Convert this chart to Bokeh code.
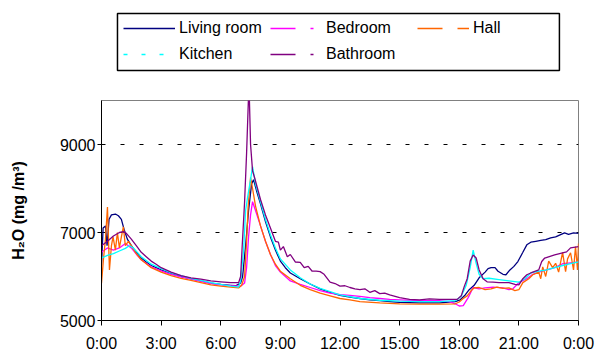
from bokeh.plotting import figure
from bokeh.layouts import column
from bokeh.models import Legend, LegendItem, FixedTicker, BoxAnnotation
from bokeh.embed import file_html
from bokeh.resources import INLINE

# ---- data (time in hours of day, H2O in mg/m3) ----
tick_hours = [0, 3, 6, 9, 12, 15, 18, 21, 24]
tick_labels = ["0:00", "3:00", "6:00", "9:00", "12:00", "15:00", "18:00", "21:00", "0:00"]
y_ticks = [5000, 7000, 9000]
grid_levels = [7000, 9000]

series_names = ["Living room", "Bedroom", "Hall", "Kitchen", "Bathroom"]

t_living = [0.0, 0.08, 0.2, 0.28, 0.38, 0.5, 0.7, 0.85, 1.0, 1.15, 1.3, 1.5, 1.75, 2.0, 2.25, 2.5, 2.75,
            3.0, 3.5, 4.0, 4.5, 5.0, 5.5, 6.0, 6.5, 6.75, 7.0, 7.1, 7.25, 7.4, 7.55, 7.65, 7.8, 8.0,
            8.25, 8.5, 8.75, 9.0, 9.25, 9.5, 10.0, 10.5, 11.0, 11.5, 12.0, 12.5, 13.0, 13.5, 14.0,
            14.5, 15.0, 16.0, 17.0, 17.8, 18.05, 18.3, 18.5, 18.75, 19.0, 19.3, 19.45, 19.6, 19.8,
            19.95, 20.2, 20.35, 20.55, 20.75, 20.95, 21.2, 21.4, 21.6, 21.85, 22.1, 22.35, 22.6,
            22.85, 23.1, 23.3, 23.5, 23.75, 24.0]
living = [6250, 7100, 7150, 6700, 7300, 7400, 7420, 7380, 7300, 7050, 6850, 6700, 6550, 6420, 6330,
          6250, 6200, 6150, 6070, 6000, 5950, 5900, 5850, 5820, 5800, 5790, 5850, 6000, 6700, 7500,
          8100, 8200, 7950, 7650, 7250, 6900, 6600, 6350, 6200, 6080, 5950, 5830, 5720, 5640, 5570,
          5530, 5500, 5470, 5450, 5430, 5410, 5400, 5400, 5430, 5470, 5580, 5700, 5800, 5970, 6100,
          6180, 6200, 6200, 6120, 6050, 6040, 6150, 6230, 6340, 6550, 6720, 6780, 6800, 6820, 6840,
          6880, 6900, 6950, 6990, 6960, 6990, 6980]

t_bedroom = [0.0, 0.3, 0.6, 0.9, 1.2, 1.5, 1.8, 2.0, 2.5, 3.0, 3.5, 4.0, 4.5, 5.0, 5.5, 6.0, 6.5, 6.9,
             7.0, 7.2, 7.3, 7.4, 7.5, 7.6, 7.75, 8.0, 8.25, 8.5, 8.75, 9.0, 9.25, 9.5, 10.0, 10.5,
             11.0, 11.5, 12.0, 12.5, 13.0, 13.5, 14.0, 14.5, 15.0, 16.0, 17.0, 17.5, 17.8, 18.0,
             18.2, 18.45, 18.7, 19.0, 19.3, 19.7, 20.2, 20.5, 20.7, 21.0, 21.4, 21.7, 22.0, 22.4,
             22.8, 23.2, 23.6, 24.0]
bedroom = [6550, 6650, 6600, 6650, 6750, 6650, 6480, 6380, 6220, 6130, 6050, 5990, 5940, 5890, 5840,
           5810, 5790, 5780, 5780, 5850, 6200, 6900, 7400, 7700, 7500, 7150, 6800, 6500, 6250, 6100,
           6000, 5900, 5820, 5750, 5680, 5620, 5590, 5570, 5550, 5520, 5500, 5480, 5470, 5450, 5450,
           5430, 5380, 5330, 5340, 5520, 5750, 5720, 5740, 5760, 5740, 5700, 5720, 5860, 5950, 6050,
           6100, 6150, 6200, 6290, 6310, 6330]

t_hall = [0.0, 0.1, 0.2, 0.3, 0.4, 0.5, 0.58, 0.7, 0.8, 0.9, 1.0, 1.1, 1.2, 1.35, 1.5, 1.75, 2.0, 2.5,
          3.0, 3.5, 4.0, 4.5, 5.0, 5.5, 6.0, 6.5, 6.9, 7.05, 7.2, 7.3, 7.38, 7.5, 7.6, 7.75, 8.0,
          8.25, 8.5, 8.75, 9.0, 9.5, 10.0, 10.5, 11.0, 11.5, 12.0, 12.5, 13.0, 14.0, 15.0, 16.0,
          17.0, 17.8, 18.0, 18.2, 18.4, 18.6, 18.75, 19.0, 19.3, 19.6, 19.9, 20.2, 20.5, 20.8, 21.0,
          21.2, 21.5, 21.7, 22.0, 22.1, 22.2, 22.35, 22.5, 22.7, 22.85, 23.0, 23.2, 23.35, 23.45,
          23.6, 23.75, 23.85, 23.95, 24.0]
hall = [5850, 6400, 6850, 7580, 6150, 6700, 6900, 6600, 7000, 6650, 6900, 7130, 6700, 6800, 6700,
        6520, 6380, 6200, 6100, 6020, 5960, 5910, 5860, 5810, 5780, 5760, 5740, 5800, 6000, 6800,
        7600, 8250, 8000, 7600, 7150, 6800, 6500, 6280, 6120, 5950, 5800, 5700, 5620, 5560, 5500,
        5470, 5430, 5400, 5380, 5370, 5370, 5380, 5420, 5500, 5560, 5680, 5740, 5750, 5700, 5720,
        5760, 5730, 5740, 5680, 5700, 5860, 5950, 6040, 6100, 5950, 6220, 6000, 6350, 6200, 6300,
        6100, 6550, 6110, 6400, 6540, 6150, 6680, 6150, 6750]

t_kitchen = [0.0, 0.3, 0.6, 0.9, 1.2, 1.4, 1.6, 2.0, 2.5, 3.0, 3.5, 4.0, 4.5, 5.0, 5.5, 6.0, 6.5, 6.9,
             7.0, 7.15, 7.25, 7.35, 7.5, 7.6, 7.75, 8.0, 8.25, 8.5, 8.75, 9.0, 9.5, 10.0, 10.5, 11.0,
             12.0, 13.0, 14.0, 15.0, 16.0, 17.0, 17.8, 18.1, 18.35, 18.55, 18.7, 18.85, 19.0, 19.2,
             19.5, 20.0, 20.5, 21.0, 21.3, 21.6, 22.0, 22.4, 22.8, 23.2, 23.6, 24.0]
kitchen = [6420, 6480, 6520, 6580, 6640, 6700, 6650, 6450, 6280, 6180, 6080, 6020, 5960, 5910, 5860,
           5820, 5780, 5760, 5900, 6600, 7500, 7800, 8200, 8500, 8100, 7700, 7300, 6950, 6650, 6400,
           6150, 5970, 5830, 5730, 5580, 5500, 5460, 5440, 5430, 5430, 5450, 5550, 5800, 6200, 6600,
           6300, 6050, 5950, 5960, 5930, 5900, 5870, 5950, 6080, 6120, 6150, 6200, 6250, 6290, 6330]

t_bathroom = [0.0, 0.3, 0.6, 0.9, 1.1, 1.25, 1.5, 1.75, 2.0, 2.25, 2.5, 2.75, 3.0, 3.5, 4.0, 4.5, 5.0,
              5.5, 6.0, 6.5, 6.9, 7.0, 7.08, 7.2, 7.3, 7.42, 7.5, 7.6, 7.7, 7.85, 8.0, 8.25, 8.5,
              8.75, 8.9, 9.0, 9.15, 9.35, 9.5, 9.75, 10.0, 10.2, 10.4, 10.6, 10.8, 11.0, 11.2, 11.5,
              11.75, 12.0, 12.25, 12.5, 12.75, 13.0, 13.25, 13.5, 13.75, 14.0, 14.25, 14.5, 15.0,
              15.5, 16.0, 16.5, 17.0, 17.5, 17.9, 18.1, 18.25, 18.4, 18.55, 18.7, 18.85, 19.0, 19.2,
              19.4, 19.7, 20.0, 20.5, 20.8, 21.0, 21.2, 21.4, 21.6, 22.0, 22.15, 22.3, 22.8, 23.4,
              23.6, 24.0]
bathroom = [6700, 6800, 6920, 7000, 7020, 6980, 6850, 6700, 6550, 6450, 6350, 6280, 6200, 6100, 6020,
            5970, 5940, 5900, 5880, 5860, 5860, 6000, 6700, 7700, 8800, 10400, 9000, 8400, 8250,
            8000, 7750, 7400, 7100, 6800, 6780, 6600, 6680, 6450, 6500, 6330, 6320, 6200, 6230, 6120,
            6120, 6110, 6050, 5870, 5840, 5780, 5790, 5750, 5720, 5700, 5720, 5640, 5680, 5610, 5620,
            5580, 5520, 5480, 5470, 5490, 5480, 5480, 5480, 5560, 5770, 5950, 6350, 6490, 6420, 6150,
            5950, 5880, 5870, 5860, 5860, 5820, 5810, 5950, 6040, 6080, 6150, 6340, 6420, 6490, 6560,
            6650, 6680]

colors = ["#000080", "#FF00FF", "#FF6600", "#00FFFF", "#800080"]
legend_dashes = ["solid", "25 15 3 9", "25 15 12 15", "4 14", "25 15 3 9"]

FONT = "Liberation Sans"

# ---- legend strip (top); its frame is aligned with the chart frame by the column ----
lg = figure(width=595, height=100, x_range=(0, 1), y_range=(0, 1),
            output_backend="svg", toolbar_location=None,
            x_axis_type=None, y_axis_type=None,
            min_border_left=101, min_border_right=17, min_border_top=0, min_border_bottom=0)
lg.outline_line_color = None
lg.xgrid.visible = False
lg.ygrid.visible = False
lg.background_fill_color = "white"
lg.border_fill_color = "white"

# legend frame (strip coordinates are fractions of the strip)
lg.add_layout(BoxAnnotation(left=0.0335, right=0.960, bottom=0.30, top=0.87,
                            fill_alpha=0, line_color="black", line_width=1.5, line_alpha=1))

# ---- main chart ----
p = figure(width=595, height=254, x_range=(0, 24), y_range=(5000, 10000),
           output_backend="svg", toolbar_location=None,
           min_border_left=101, min_border_right=17, min_border_top=0, min_border_bottom=33)
p.background_fill_color = "white"
p.border_fill_color = "white"
p.outline_line_color = "#808080"
p.outline_line_width = 1

series = [(t_living, living), (t_bedroom, bedroom), (t_hall, hall), (t_kitchen, kitchen), (t_bathroom, bathroom)]
items = []
for (tx, vy), c, d, name in zip(series, colors, legend_dashes, series_names):
    p.line(tx, vy, line_color=c, line_width=1.3)
    # legend-only renderer, its point lies outside the strip's visible range
    dummy = lg.line([-5, -4], [-5, -4], line_color=c, line_width=1.3, line_dash=d)
    items.append(LegendItem(label=name, renderers=[dummy]))

# axes
p.xaxis.ticker = FixedTicker(ticks=tick_hours)
p.xaxis.major_label_overrides = {h: lab for h, lab in zip(tick_hours, tick_labels)}
p.yaxis.ticker = FixedTicker(ticks=y_ticks)
for ax in (p.xaxis, p.yaxis):
    ax.axis_line_color = "black"
    ax.axis_line_width = 1
    ax.major_tick_line_color = "black"
    ax.major_tick_in = 0
    ax.major_tick_out = 5
    ax.minor_tick_line_color = None
    ax.major_label_text_font = FONT
    ax.major_label_text_font_size = "16px"
    ax.major_label_text_color = "black"
p.yaxis.major_tick_out = 4
p.yaxis.major_label_standoff = 2
p.xaxis.major_label_standoff = 9
p.yaxis.axis_label = "H₂O (mg /m³)"
p.yaxis.axis_label_text_font = FONT
p.yaxis.axis_label_text_font_size = "16px"
p.yaxis.axis_label_text_font_style = "bold"
p.yaxis.axis_label_text_color = "black"
p.yaxis.axis_label_standoff = 30

p.xgrid.visible = False
p.ygrid.ticker = FixedTicker(ticks=grid_levels)
p.ygrid.grid_line_color = "black"
p.ygrid.grid_line_dash = "4 15"
p.ygrid.grid_line_width = 1

legend = Legend(items=items, location=(22, 36), orientation="horizontal", ncols=3,
                label_text_font=FONT, label_text_font_size="16px", label_text_color="black",
                glyph_width=52, glyph_height=20, label_standoff=4, label_width=85, label_height=20,
                spacing=6, padding=5, margin=0,
                border_line_color=None,
                background_fill_color="white", background_fill_alpha=0.0)
lg.add_layout(legend, "center")

layout = column(lg, p, spacing=0)
open("out.html", "w").write(file_html(layout, INLINE))
